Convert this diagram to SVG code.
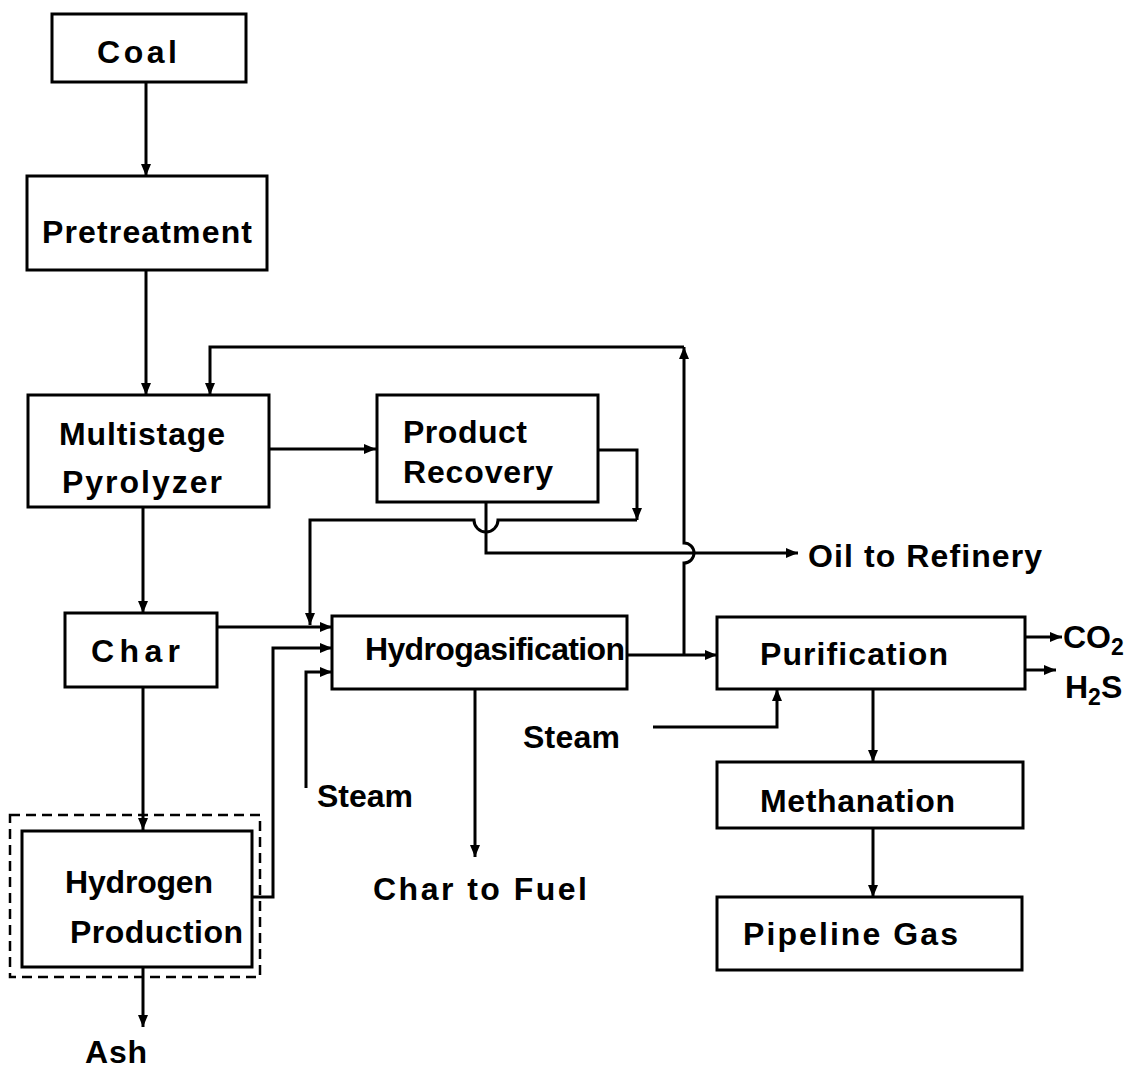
<svg xmlns="http://www.w3.org/2000/svg" width="1134" height="1068" viewBox="0 0 1134 1068">
<defs>
<marker id="ah" markerUnits="userSpaceOnUse" markerWidth="14" markerHeight="12" refX="12" refY="6" orient="auto">
<path d="M0,1 L12,6 L0,11 Z" fill="#000"/>
</marker>
<style>
.box{fill:#fff;stroke:#000;stroke-width:3}
.dash{fill:none;stroke:#000;stroke-width:2.5;stroke-dasharray:10 6}
.ln{fill:none;stroke:#000;stroke-width:3}
.ar{fill:none;stroke:#000;stroke-width:3;marker-end:url(#ah)}
text{font-family:"Liberation Sans",Arial,sans-serif;font-weight:bold;font-size:32px;fill:#000}
.sub{font-size:23px}
</style>
</defs>
<rect width="1134" height="1068" fill="#fff"/>

<g id="connectors">
<line class="ar" x1="146" y1="82" x2="146" y2="176"/>
<line class="ar" x1="146" y1="270" x2="146" y2="395"/>
<line class="ar" x1="143" y1="507" x2="143" y2="613"/>
<line class="ar" x1="143" y1="687" x2="143" y2="830"/>
<line class="ar" x1="143" y1="967" x2="143" y2="1027"/>
<line class="ar" x1="269" y1="449" x2="376" y2="449"/>
<path class="ar" d="M684,655 L684,563 A10,10 0 0 0 684,543 L684,347"/>
<path class="ar" d="M684,347 L210,347 L210,395"/>
<path class="ar" d="M598,450 L637,450 L637,520"/>
<path class="ar" d="M637,520 L498,520 A12,12 0 0 1 474,520 L310,520 L310,625"/>
<path class="ar" d="M486,502 L486,553 L798,553"/>
<line class="ar" x1="217" y1="627" x2="332" y2="627"/>
<path class="ar" d="M252,897 L273,897 L273,648 L332,648"/>
<path class="ar" d="M306,788 L306,672 L332,672"/>
<line class="ar" x1="475" y1="689" x2="475" y2="857"/>
<line class="ar" x1="627" y1="655" x2="717" y2="655"/>
<path class="ar" d="M653,727 L777,727 L777,689"/>
<line class="ar" x1="1025" y1="637" x2="1062" y2="637"/>
<line class="ar" x1="1025" y1="670" x2="1056" y2="670"/>
<line class="ar" x1="873" y1="689" x2="873" y2="762"/>
<line class="ar" x1="873" y1="828" x2="873" y2="897"/>
</g>

<g id="coal"><rect class="box" x="52" y="14" width="194" height="68"/><text x="97" y="63" textLength="80">Coal</text></g>
<g id="pretreatment"><rect class="box" x="27" y="176" width="240" height="94"/><text x="42" y="243" textLength="210">Pretreatment</text></g>
<g id="pyrolyzer"><rect class="box" x="28" y="395" width="241" height="112"/><text x="59" y="445" textLength="166">Multistage</text><text x="62" y="493" textLength="160">Pyrolyzer</text></g>
<g id="product-recovery"><rect class="box" x="377" y="395" width="221" height="107"/><text x="403" y="443" textLength="124">Product</text><text x="403" y="483" textLength="150">Recovery</text></g>
<g id="char"><rect class="box" x="65" y="613" width="152" height="74"/><text x="91" y="662" textLength="89">Char</text></g>
<g id="hydrogasification"><rect class="box" x="332" y="616" width="295" height="73"/><text x="365" y="660" textLength="260">Hydrogasification</text></g>
<g id="purification"><rect class="box" x="717" y="617" width="308" height="72"/><text x="760" y="665" textLength="188">Purification</text></g>
<g id="methanation"><rect class="box" x="717" y="762" width="306" height="66"/><text x="760" y="812" textLength="195">Methanation</text></g>
<g id="pipeline-gas"><rect class="box" x="717" y="897" width="305" height="73"/><text x="743" y="945" textLength="215">Pipeline Gas</text></g>
<g id="hydrogen-production"><rect class="dash" x="10" y="815" width="250" height="162"/><rect class="box" x="22" y="831" width="230" height="136"/><text x="65" y="893" textLength="148">Hydrogen</text><text x="70" y="943" textLength="173">Production</text></g>

<g id="labels">
<text x="808" y="567" textLength="234">Oil to Refinery</text>
<text x="523" y="748" textLength="97">Steam</text>
<text x="317" y="807" textLength="96">Steam</text>
<text x="373" y="900" textLength="214">Char to Fuel</text>
<text x="85" y="1063" textLength="62">Ash</text>
<text x="1063" y="648">CO<tspan class="sub" dy="7">2</tspan></text>
<text x="1065" y="698">H<tspan class="sub" dy="7">2</tspan><tspan dy="-7">S</tspan></text>
</g>
</svg>
